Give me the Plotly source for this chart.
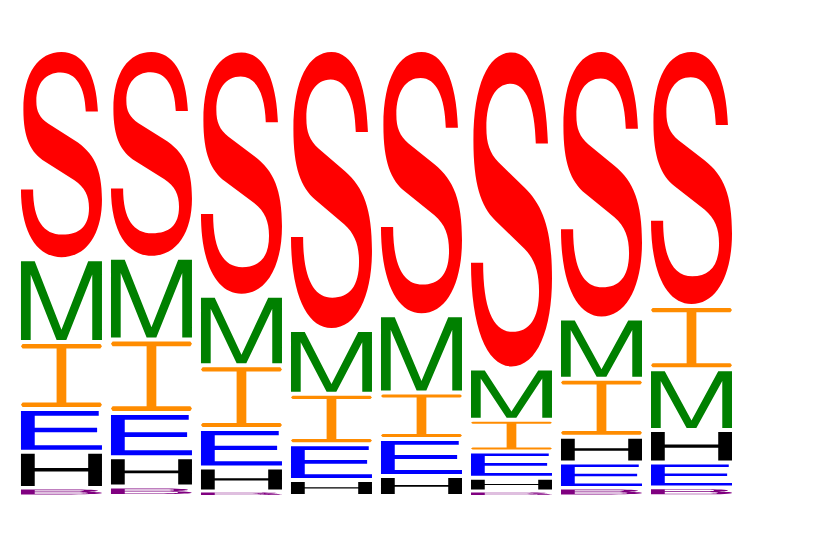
import plotly.graph_objects as go

# --- dados: probabilidade de cada letra por posição ---
positions = [1, 2, 3, 4, 5, 6, 7, 8]
letters = ["S", "M", "I", "E", "H", "B"]

prob_S = [0.469, 0.466, 0.550, 0.628, 0.595, 0.713, 0.602, 0.574]
prob_M = [0.186, 0.183, 0.156, 0.143, 0.173, 0.115, 0.135, 0.136]
prob_I = [0.150, 0.165, 0.143, 0.113, 0.104, 0.071, 0.130, 0.142]
prob_E = [0.096, 0.099, 0.086, 0.080, 0.083, 0.059, 0.057, 0.056]
prob_H = [0.081, 0.066, 0.054, 0.036, 0.045, 0.031, 0.058, 0.073]
prob_B = [0.018, 0.021, 0.010, 0.000, 0.000, 0.010, 0.018, 0.019]

probs = {"S": prob_S, "M": prob_M, "I": prob_I, "E": prob_E, "H": prob_H, "B": prob_B}
colors = {"S": "#ff0000", "M": "#008000", "I": "#ff8c00",
          "E": "#0000ff", "H": "#000000", "B": "#800080"}

# --- contornos das letras numa caixa unitária (x, y de 0 a 1) ---
glyphs = {
    "S": [("M", [(0.95, 0.71)]),
          ("C", [(0.93, 0.90), (0.76, 1.00), (0.50, 1.00)]),
          ("C", [(0.22, 1.00), (0.03, 0.90), (0.03, 0.72)]),
          ("C", [(0.03, 0.58), (0.12, 0.51), (0.30, 0.465)]),
          ("L", [(0.66, 0.375)]),
          ("C", [(0.79, 0.34), (0.84, 0.30), (0.84, 0.24)]),
          ("C", [(0.84, 0.15), (0.72, 0.11), (0.51, 0.11)]),
          ("C", [(0.28, 0.11), (0.15, 0.18), (0.15, 0.33)]),
          ("L", [(0.00, 0.33)]),
          ("C", [(0.00, 0.12), (0.20, 0.00), (0.50, 0.00)]),
          ("C", [(0.82, 0.00), (1.00, 0.12), (1.00, 0.28)]),
          ("C", [(1.00, 0.43), (0.90, 0.51), (0.66, 0.57)]),
          ("L", [(0.34, 0.65)]),
          ("C", [(0.23, 0.68), (0.19, 0.71), (0.19, 0.76)]),
          ("C", [(0.19, 0.85), (0.31, 0.90), (0.49, 0.90)]),
          ("C", [(0.68, 0.90), (0.79, 0.83), (0.80, 0.71)]),
          ("Z", [])],
    "M": [("M", [(0, 0)]),
          ("L", [(0.12, 0), (0.12, 0.83), (0.44, 0), (0.56, 0), (0.88, 0.83),
                 (0.88, 0), (1, 0), (1, 1), (0.83, 1), (0.5, 0.13), (0.17, 1), (0, 1)]),
          ("Z", [])],
    "I": [("M", [(0.02, 0)]),
          ("L", [(0.98, 0), (1, 0.035), (0.98, 0.07), (0.56, 0.07), (0.56, 0.93),
                 (0.98, 0.93), (1, 0.965), (0.98, 1), (0.02, 1), (0, 0.965),
                 (0.02, 0.93), (0.44, 0.93), (0.44, 0.07), (0.02, 0.07), (0, 0.035)]),
          ("Z", [])],
    "E": [("M", [(0, 0)]),
          ("L", [(1, 0), (1, 0.12), (0.17, 0.12), (0.17, 0.45), (0.94, 0.45),
                 (0.94, 0.57), (0.17, 0.57), (0.17, 0.88), (0.96, 0.88),
                 (0.96, 1), (0, 1)]),
          ("Z", [])],
    "H": [("M", [(0, 0)]),
          ("L", [(0.17, 0), (0.17, 0.45), (0.83, 0.45), (0.83, 0), (1, 0), (1, 1),
                 (0.83, 1), (0.83, 0.56), (0.17, 0.56), (0.17, 1), (0, 1)]),
          ("Z", [])],
    "B": [("M", [(0, 0)]),
          ("L", [(0.62, 0)]),
          ("C", [(0.88, 0), (1.0, 0.12), (1.0, 0.28)]),
          ("C", [(1.0, 0.42), (0.9, 0.5), (0.78, 0.53)]),
          ("C", [(0.88, 0.57), (0.95, 0.65), (0.95, 0.76)]),
          ("C", [(0.95, 0.90), (0.84, 1.0), (0.6, 1.0)]),
          ("L", [(0, 1)]),
          ("Z", []),
          ("M", [(0.17, 0.12)]),
          ("L", [(0.6, 0.12)]),
          ("C", [(0.75, 0.12), (0.83, 0.18), (0.83, 0.28)]),
          ("C", [(0.83, 0.38), (0.75, 0.46), (0.58, 0.46)]),
          ("L", [(0.17, 0.46)]),
          ("Z", []),
          ("M", [(0.17, 0.58)]),
          ("L", [(0.55, 0.58)]),
          ("C", [(0.7, 0.58), (0.78, 0.63), (0.78, 0.75)]),
          ("C", [(0.78, 0.84), (0.7, 0.88), (0.56, 0.88)]),
          ("L", [(0.17, 0.88)]),
          ("Z", [])],
}


def glyph_path(letter, x0, x1, y0, y1):
    parts = []
    for cmd, pts in glyphs[letter]:
        if cmd == "L":
            parts += [f"L {x0 + u * (x1 - x0):.5f},{y0 + v * (y1 - y0):.5f}" for u, v in pts]
        else:
            coords = " ".join(f"{x0 + u * (x1 - x0):.5f},{y0 + v * (y1 - y0):.5f}" for u, v in pts)
            parts.append(f"{cmd} {coords}".strip())
    return " ".join(parts)


fig = go.Figure()
# traço invisível só para ancorar os eixos
fig.add_trace(go.Scatter(x=positions, y=[0] * len(positions), mode="markers",
                         marker=dict(opacity=0), hoverinfo="skip", showlegend=False))

half_w = 0.45
pad = 0.0045
shapes = []
for i, pos in enumerate(positions):
    # empilha do menor para o maior
    order = sorted(letters, key=lambda l: probs[l][i])
    base = 0.0
    for l in order:
        h = probs[l][i]
        if h <= 0:
            continue
        gh = max(h - 2 * pad, h * 0.6)
        off = (h - gh) / 2
        shapes.append(dict(
            type="path", xref="x", yref="y",
            path=glyph_path(l, pos - half_w, pos + half_w, base + off, base + off + gh),
            fillcolor=colors[l], fillrule="evenodd", line=dict(width=0),
        ))
        base += h

fig.update_layout(
    shapes=shapes,
    width=833, height=550,
    margin=dict(l=0, r=0, t=0, b=0),
    plot_bgcolor="white", paper_bgcolor="white",
    xaxis=dict(range=[0.406, 9.661], visible=False),
    yaxis=dict(range=[-0.139, 1.094], visible=False),
    showlegend=False,
)

fig.write_html("out.html")
